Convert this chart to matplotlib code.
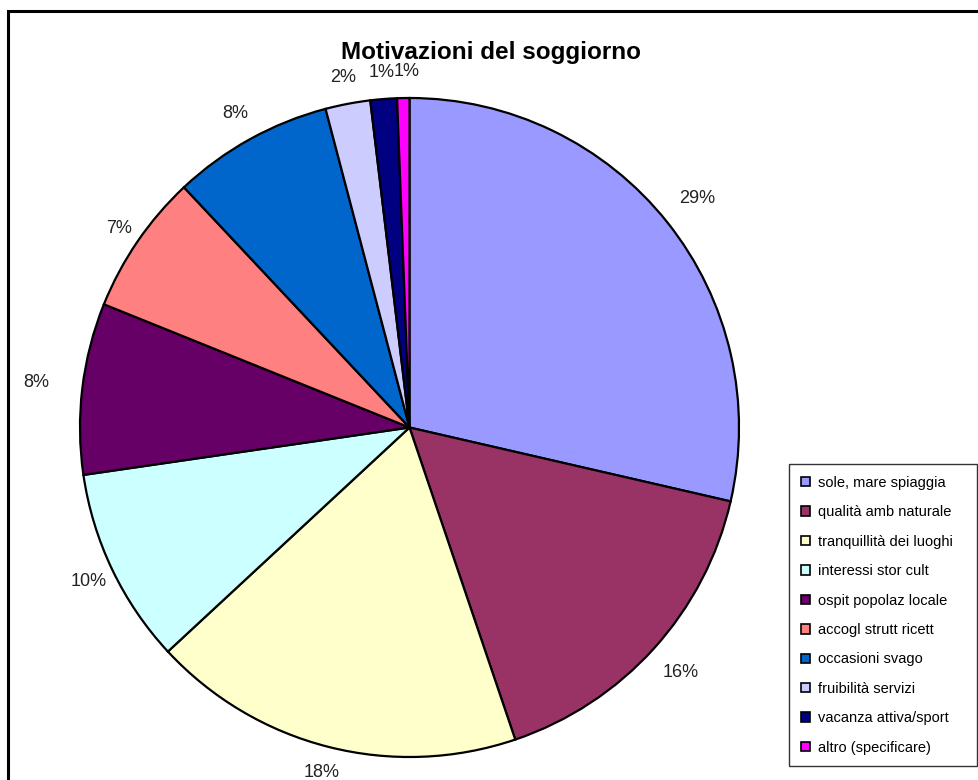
import matplotlib
matplotlib.use("Agg")
import matplotlib.pyplot as plt
from matplotlib.patches import Patch, Rectangle

plt.rcParams['font.family'] = ['Liberation Sans', 'DejaVu Sans']

categories = ["sole, mare spiaggia", "qualità amb naturale", "tranquillità dei luoghi",
              "interessi stor cult", "ospit popolaz locale", "accogl strutt ricett",
              "occasioni svago", "fruibilità servizi", "vacanza attiva/sport",
              "altro (specificare)"]
values = [28.6, 16.2, 18.3, 9.6, 8.4, 6.9, 7.9, 2.2, 1.3, 0.6]
colors = ["#9999FF", "#993366", "#FFFFCC", "#CCFFFF", "#660066",
          "#FF8080", "#0066CC", "#CCCCFF", "#000080", "#FF00FF"]
title = "Motivazioni del soggiorno"

# label distance factors (style), relative to the default pctdistance
label_scale = [1.035, 1.027, 1.0, 1.0, 1.055, 0.99, 1.01, 1.0, 1.0, 1.0]

W, H = 979, 780
fig = plt.figure(figsize=(W / 100, H / 100), dpi=100)
fig.patch.set_facecolor("white")

cx, cy, r = 409.5, 780 - 427.5, 329.5
ax = fig.add_axes([(cx - r) / W, (cy - r) / H, 2 * r / W, 2 * r / H])
wedges, texts, autotexts = ax.pie(
    values, colors=colors, startangle=90, counterclock=False, radius=1.0,
    autopct='%.0f%%', pctdistance=1.08,
    wedgeprops=dict(edgecolor="black", linewidth=1.6),
    textprops=dict(fontsize=13, color="#222222"))
for t, s in zip(autotexts, label_scale):
    t.set_clip_on(False)
    x, y = t.get_position()
    t.set_position((x * s, y * s))
x, y = autotexts[9].get_position()
autotexts[9].set_position((x + 0.012, y))
ax.set_xlim(-1, 1)
ax.set_ylim(-1, 1)
ax.axis("off")

fig.text(491 / W, 1 - 52 / H, title, ha="center", va="center",
         fontsize=17.5, fontweight="bold")

handles = [Patch(facecolor=c, edgecolor="black", linewidth=1.2) for c in colors]
leg = fig.legend(handles, categories, loc="upper left",
                 bbox_to_anchor=(789 / W, 12 / H, (977 - 789) / W, (780 - 464 - 12) / H),
                 mode="expand", fontsize=10.5,
                 frameon=True, fancybox=False, edgecolor="black",
                 handlelength=0.62, handleheight=0.62, handletextpad=0.55,
                 labelspacing=1.06, borderpad=0.8, borderaxespad=0)
leg.get_frame().set_linewidth(1.0)

# outer chart border (extends beyond image to right/bottom)
fig.patches.append(Rectangle((8.5 / W, -0.1), 1.2, 1 - 11.5 / H + 0.1,
                             transform=fig.transFigure, fill=False,
                             edgecolor="black", linewidth=2.2))

fig.savefig("out.png", dpi=100)
